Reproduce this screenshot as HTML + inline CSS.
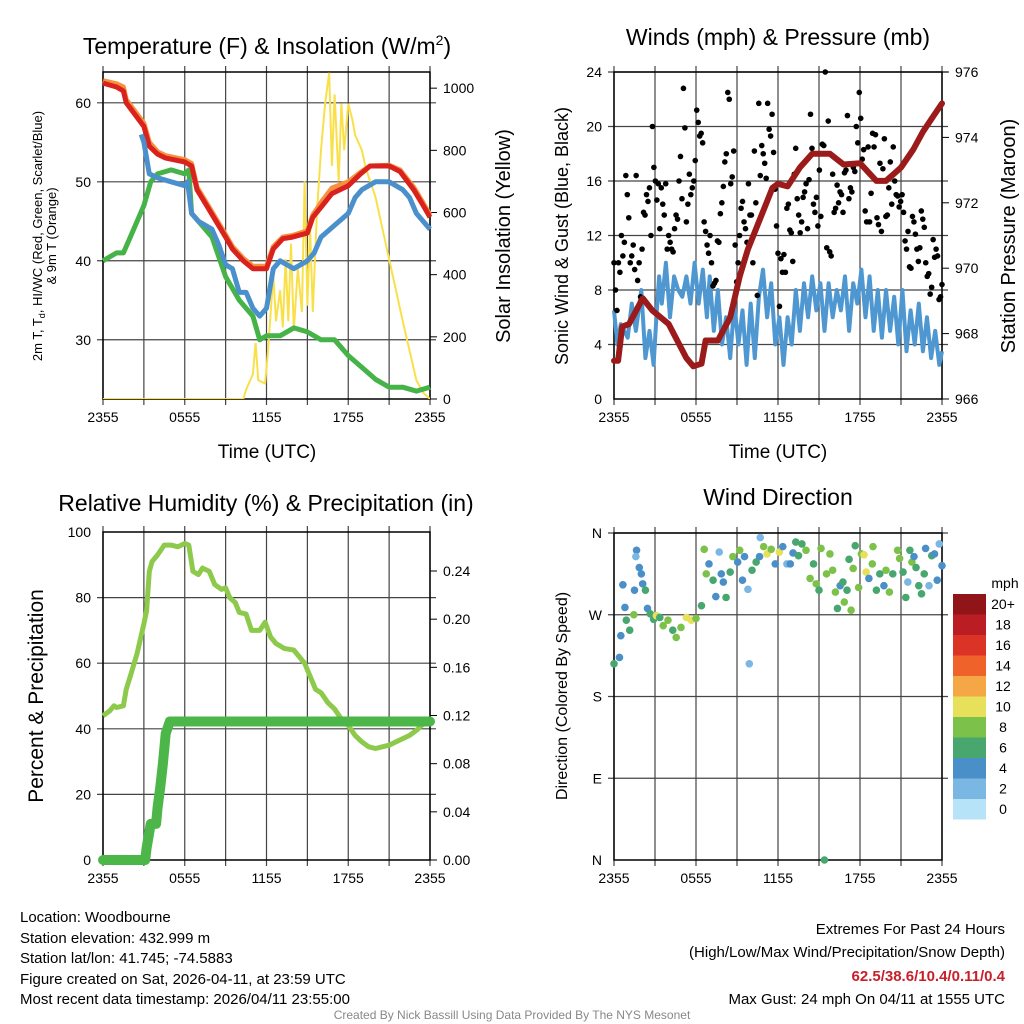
<!DOCTYPE html>
<html><head><meta charset="utf-8"><style>
body{margin:0;background:#fff;width:1024px;height:1024px;overflow:hidden;font-family:"Liberation Sans",sans-serif}
svg{display:block}
</style></head><body>
<svg id="chart" xmlns="http://www.w3.org/2000/svg" width="1024" height="1024" viewBox="0 0 1024 1024" font-family="Liberation Sans, sans-serif">
<rect width="1024" height="1024" fill="#fff"/>
<g id="g"></g>
<text x="267" y="54" font-size="23" text-anchor="middle">Temperature (F) &amp; Insolation (W/m<tspan dy="-9" font-size="14">2</tspan><tspan dy="9">)</tspan></text>
<text x="778" y="45" font-size="23" text-anchor="middle">Winds (mph) &amp; Pressure (mb)</text>
<text x="266" y="511" font-size="23" text-anchor="middle">Relative Humidity (%) &amp; Precipitation (in)</text>
<text x="778" y="505" font-size="23" text-anchor="middle">Wind Direction</text>
<text x="267" y="458" font-size="19" text-anchor="middle">Time (UTC)</text>
<text x="778" y="458" font-size="19" text-anchor="middle">Time (UTC)</text>
<g font-size="13" text-anchor="middle">
<text transform="translate(42,236) rotate(-90)">2m T, T<tspan dy="3" font-size="9">d</tspan><tspan dy="-3">, HI/WC (Red, Green, Scarlet/Blue)</tspan></text>
<text transform="translate(56,236) rotate(-90)">&amp; 9m T (Orange)</text>
</g>
<text font-size="20" text-anchor="middle" transform="translate(510,236) rotate(-90)">Solar Insolation (Yellow)</text>
<text font-size="18" text-anchor="middle" transform="translate(568,236) rotate(-90)">Sonic Wind &amp; Gust (Blue, Black)</text>
<text font-size="20" text-anchor="middle" transform="translate(1015,236) rotate(-90)">Station Pressure (Maroon)</text>
<text font-size="21" text-anchor="middle" transform="translate(43,696) rotate(-90)">Percent &amp; Precipitation</text>
<text font-size="16" text-anchor="middle" transform="translate(567,696) rotate(-90)">Direction (Colored By Speed)</text>
<g font-size="15">
<text x="20" y="922">Location: Woodbourne</text>
<text x="20" y="943">Station elevation: 432.999 m</text>
<text x="20" y="963">Station lat/lon: 41.745; -74.5883</text>
<text x="20" y="984">Figure created on Sat, 2026-04-11, at 23:59 UTC</text>
<text x="20" y="1004">Most recent data timestamp: 2026/04/11 23:55:00</text>
</g>
<g font-size="15" text-anchor="end">
<text x="1005" y="934">Extremes For Past 24 Hours</text>
<text x="1005" y="957">(High/Low/Max Wind/Precipitation/Snow Depth)</text>
<text x="1005" y="981" fill="#c8202a" font-weight="bold">62.5/38.6/10.4/0.11/0.4</text>
<text x="1005" y="1004">Max Gust: 24 mph On 04/11 at 1555 UTC</text>
</g>
<text x="512" y="1019" font-size="12" fill="#888" text-anchor="middle">Created By Nick Bassill Using Data Provided By The NYS Mesonet</text>
</svg>
<script>
// ---------- data ----------
const tempT=[0,1,1.5,1.7,3,3.4,4,4.6,6,6.5,6.9,7.6,8.3,9,9.5,10.3,11,12,12.5,13.2,13.9,15,15.4,16.1,16.8,18,18.9,19.6,21,21.8,22.8,23.5,24];
const tempRed=[62.5,62,61.5,60,57,54.5,53.5,53,52.5,52,49,47,45,43,41.5,40,39,39,41.5,42.8,43,43.5,45.5,47,48.5,49.5,51,52,52,51.3,49,47,45.5];
const tempOrange=[62.8,62.4,62,60.4,57.4,55,53.8,53.3,52.8,52.3,49.3,47.3,45.3,43.3,41.8,40.3,39.3,39.3,41.8,43,43.2,43.8,45.8,47.6,49.2,50,51.2,52,52.1,51.5,49.3,47.3,45.8];
const chillT=[2.8,3,3.4,4,5,6,6.2,6.5,7,8,8.5,9,9.5,10,10.5,11,11.5,12,12.3,12.5,13,14,15,15.5,16,17,18,18.5,19,20,21,22,22.5,23,24];
const chillV=[56,55,51,50.5,50,49.5,50,46,45,44,42,39.5,39,36,36,34,33,34,37,39,40,39,40,41,43,44.5,46,48,49,50,50,49,48,46,44];
const dewT=[0,1,1.5,2,3,3.5,4,5,6,6.3,6.5,7,8,9,10,11,11.5,12,13,14,15,16,17,18,19,20,21,22,23,24];
const dewV=[40,41,41,43,47,50,51,51.5,51,51.5,46,45,43,38,35,33,30,30.5,30.5,31.5,31,30,30,28,26.5,25,24,24,23.5,24];
const solT=[0,10.3,10.5,11,11.2,11.4,11.9,12.1,12.5,12.7,13,13.2,13.4,13.6,13.8,14,14.3,14.6,14.8,15,15.2,15.4,15.7,16,16.3,16.6,16.8,17,17.3,17.5,17.7,18,18.3,18.5,19,19.3,20,21,22,23,23.5,24];
const solV=[0,0,30,80,180,60,50,150,400,250,350,230,450,250,500,220,420,280,700,300,550,280,600,800,950,1050,750,980,700,950,800,950,900,850,800,740,650,450,250,60,20,0];
const presT=[0,0.3,0.6,1.1,2.1,2.8,4,5.3,5.8,6.4,6.7,7.6,8.5,9.2,9.8,10.6,11.6,12,12.7,13.6,14.5,15.8,16.8,18,19.2,19.9,21,21.9,22.6,23.4,24];
const presMb=[967.17,967.17,968.21,968.29,969.08,968.71,968.29,967.25,967.0,967.08,967.79,967.79,968.5,969.75,970.58,971.42,972.46,972.58,972.5,973.08,973.5,973.5,973.17,973.21,972.67,972.67,973.08,973.63,974.17,974.67,975.04];
const windT=[0,0.25,0.5,1,1.3,1.6,2,2.3,2.6,2.9,3.1,3.3,3.5,3.8,4.1,4.4,4.7,5,5.3,5.6,5.9,6.2,6.5,6.8,7,7.3,7.6,7.9,8.2,8.5,8.8,9.1,9.4,9.7,10,10.3,10.6,10.9,11.2,11.5,11.8,12.1,12.4,12.7,13,13.3,13.6,13.9,14.2,14.5,14.8,15.1,15.4,15.7,16,16.3,16.6,16.9,17.2,17.5,17.8,18.1,18.4,18.7,19,19.3,19.6,19.9,20.2,20.5,20.8,21.1,21.4,21.7,22,22.3,22.6,22.9,23.2,23.5,23.8,24];
const windV=[6.5,4,5.5,4.5,7,5,8,3,5,2.5,6,9,7,10,6,9,8,7.5,9,7,10,7,9.5,6,9,5,8,4,6,3,7,4,6.5,2.5,7,3,7.5,9.5,6,8.5,4,6,2.5,6,4,8,5,8.5,6,9,6.5,8.5,5,8.5,6,8,6.5,9,5,8.5,7,9.5,6,9,5,8,4.5,8,5,7.5,4,8,3.5,6.5,4,7,3.5,6,3,5,2.5,3.5];
const gustV=[10,8,6.5,10,9.3,12,10.5,11.5,16.4,15,13.3,10,10.5,11.3,9.5,16.4,8.7,10,7.5,11,13.7,13.5,15,14.5,15.5,12,20,17,16,14.6,15.8,12.5,15.5,14.3,13.5,15.8,11,12,11.5,11,10.8,12.5,13.5,13.2,16,17.8,14.7,22.8,19.9,13,14.3,16.5,15,15.5,16,17.5,21.2,20.3,19.3,19.5,18.8,13,12.3,11.3,10.7,12,10,8.3,8.5,8.7,11.6,11.5,13.6,14.4,15.6,17.4,18,22.5,22,15.8,16.3,18.2,11.3,8.6,10,12,14,14.5,13,12.5,11.5,15.8,13.5,13.5,10,18.2,14.4,7.6,21.7,16.4,18.6,18,17.3,16.2,21.7,19.8,19.3,20.9,18.1,15.4,12.7,10.7,6.8,10.3,9.3,10.6,9.3,14,14.3,12.4,12.2,10.1,16.5,18.4,14.7,13.5,12.2,13,14.8,15.2,15.8,12.5,16.1,20.9,18.4,14.3,13.7,14.8,12.7,16.8,13.4,18.7,18.6,24,11.1,20.4,10.8,10.5,16.5,13.7,14,15.7,14.4,15.2,15,13.7,16.6,16.8,20.8,14.7,15.5,15.2,17,16.7,20,18.8,22.5,20.6,17.6,18.3,13.8,13,18.5,13,15.1,19.5,18.5,19.4,13.3,12.8,17.3,12.3,16.9,19.1,13.4,13.5,15.5,17.4,14.3,18.5,16,15,14.9,14.1,14.5,15,13.7,11.6,11,12.3,9.7,9.6,13.4,13,12.1,11,10.1,11.1,13.8,13.2,12.6,10,9,9.2,7.7,8.2,11.7,10.4,11,10.5,7.3,7.5,8.4];
const rhT=[0,0.5,0.8,1,1.5,1.7,2,2.5,3,3.2,3.4,3.6,4,4.5,5,5.5,6,6.3,6.6,7,7.3,7.8,8.2,8.7,9,9.3,9.7,10,10.5,10.9,11.5,11.9,12.3,12.7,13.3,14,14.4,14.8,15.3,15.6,16,16.5,17,17.5,18,18.5,19,19.5,20,20.5,21,21.5,22,22.5,23,23.5,24];
const rhV=[44,45.5,47,46.5,47,52,56,63,72,76,88,91,93,96,96,95.5,96.5,96,88,87,89,88,84,82.5,83,80,78.5,75.5,75,70,70,72.5,68,66,64.5,64,62,60,55,52,51,48,46,43,41,38,36,34.5,34,34.5,35,36,37,38,39.5,41.5,43];
const precT=[0,3.1,3.2,3.5,3.9,4.0,4.2,4.4,4.6,4.9,24];
const precV=[0,0,0.01,0.03,0.03,0.043,0.06,0.08,0.105,0.115,0.115];
const dirT=[0,0.4,0.5,0.65,0.8,0.9,1.15,1.45,1.5,1.65,1.6,1.85,2.0,2.1,2.3,2.45,2.65,2.9,3.1,3.35,3.6,3.95,4.3,4.55,4.9,5.3,5.65,6.0,6.4,6.6,6.75,6.95,7.25,7.45,7.7,7.85,8.0,8.2,8.5,8.7,9.05,9.2,9.4,9.55,9.8,9.9,10.1,10.4,10.65,10.7,10.95,11.2,11.5,11.8,12.1,12.35,12.65,12.9,13.1,13.3,13.5,13.75,14.05,14.35,14.6,14.8,15.0,15.15,15.4,15.55,15.8,16.0,16.2,16.35,16.55,16.75,16.85,17.05,17.2,17.35,17.5,17.65,17.9,18.1,18.3,18.45,18.65,18.9,18.95,19.2,19.45,19.75,19.9,20.15,20.4,20.75,20.9,21.15,21.35,21.5,21.65,21.8,21.95,22.1,22.3,22.5,22.7,22.8,23.05,23.25,23.45,23.65,23.8,24];
const dirDeg=[216,223,247,303,278,264,253,270,297,341,334,322,315,304,297,277,271,265,269,267,258,264,253,245,256,267,264,266,280,342,315,326,308,290,339,315,306,289,317,334,328,341,308,334,298,216,319,328,334,355,345,337,342,326,339,345,326,326,338,350,335,348,341,310,326,304,297,343,0,315,337,319,295,277,302,306,284,297,331,275,321,346,300,337,336,317,310,326,345,297,315,302,319,295,315,341,332,317,289,306,341,328,334,322,302,293,315,343,302,335,337,308,348,324];
const dirSpd=[6,4,4,4,4,6,6,8,4,4,2,4,4,4,6,4,6,6,10,6,8,8,6,8,8,10,10,8,6,8,8,4,6,4,2,4,4,6,6,8,4,8,4,4,2,2,6,6,4,2,8,10,8,4,10,4,2,4,4,6,6,6,8,8,6,8,6,8,6,8,8,8,8,6,4,6,8,6,6,8,8,6,8,8,10,10,4,8,8,6,6,4,8,8,6,8,8,6,6,2,6,8,4,6,6,6,6,4,2,6,4,4,2,4];
const cbarLabels=["20+","18","16","14","12","10","8","6","4","2","0"];
const cbarColors=["#911518","#bb1d24","#dc3327","#ef622a","#f6a745","#e6e05b","#7cc14a","#48a66f","#4a8fc8","#7bb7e3","#b7e3f8"];
const timeLabels=["2355","0555","1155","1755","2355"];

// ---------- helpers ----------
const NS="http://www.w3.org/2000/svg";
const G=document.getElementById('g');
function mk(tag,attrs,parent){const e=document.createElementNS(NS,tag);for(const k in attrs)e.setAttribute(k,attrs[k]);(parent||G).appendChild(e);return e;}
function scale(d0,d1,r0,r1){return v=>r0+(v-d0)/(d1-d0)*(r1-r0);}
function poly(ts,vs,X,Y){return ts.map((t,i)=>X(t).toFixed(1)+','+Y(vs[i]).toFixed(1)).join(' ');}

function frame(p,x0,x1,y0,y1,X,leftTicks,Yl,leftFmt,rightTicks,Yr,rightFmt,hGrid,name){
  const grp=mk('g',{});
  
  
  for(let h=0;h<=24;h+=3){
    const l=mk('line',{x1:X(h),x2:X(h),y1:y0-6,y2:y1+6,stroke:'#444','stroke-width':1.2},grp);
    
    
  }
  timeLabels.forEach((s,i)=>{
    const t=mk('text',{x:X(i*6),y:y1+23,'font-size':14,'text-anchor':'middle'},grp);t.textContent=s;
    
    
  });
  hGrid.forEach(v=>{
    const l=mk('line',{x1:x0-6,x2:x1+6,y1:Yl(v),y2:Yl(v),stroke:'#444','stroke-width':1.2},grp);
    
    
  });
  leftTicks.forEach((v,i)=>{
    const t=mk('text',{x:x0-12,y:Yl(v)+5,'font-size':14,'text-anchor':'end'},grp);t.textContent=leftFmt(v,i);
    
    
  });
  if(rightTicks){rightTicks.forEach(v=>{
    mk('line',{x1:x1,x2:x1+7,y1:Yr(v),y2:Yr(v),stroke:'#000','stroke-width':1},grp);
    const t=mk('text',{x:x1+13,y:Yr(v)+5,'font-size':14},grp);t.textContent=rightFmt(v);
    
    
  });}
  const r=mk('rect',{x:x0,y:y0,width:x1-x0,height:y1-y0,fill:'none',stroke:'#000','stroke-width':1.5});
  
  
}

// ---------- panel 1 ----------
{const x0=103,x1=430,y0=72,y1=399;
 const X=scale(0,24,x0,x1),Y=scale(22.5,63.9,y1,y0),Ys=scale(0,1052,y1,y0);
 frame(1,x0,x1,y0,y1,X,[30,40,50,60],Y,v=>v,[0,200,400,600,800,1000],Ys,v=>v,[30,40,50,60],'temperature-panel');
 const clip=mk('clipPath',{id:'c1'});mk('rect',{x:x0,y:y0,width:x1-x0,height:y1-y0},clip);
 const s=mk('polyline',{points:poly(solT,solV,X,Ys),fill:'none',stroke:'#f9e04b','stroke-width':2,'clip-path':'url(#c1)'});
 
 
 const d=mk('polyline',{points:poly(dewT,dewV,X,Y),fill:'none',stroke:'#46b348','stroke-width':5,'stroke-linejoin':'round'});
 
 
 const o=mk('polyline',{points:poly(tempT,tempOrange,X,Y),fill:'none',stroke:'#f7913d','stroke-width':5,'stroke-linejoin':'round'});
 
 
 const r=mk('polyline',{points:poly(tempT,tempRed,X,Y),fill:'none',stroke:'#d9221d','stroke-width':5,'stroke-linejoin':'round'});
 
 
 const b=mk('polyline',{points:poly(chillT,chillV,X,Y),fill:'none',stroke:'#4a90cc','stroke-width':5,'stroke-linejoin':'round'});
 
 
}
// ---------- panel 2 ----------
{const x0=614,x1=942,y0=72,y1=399;
 const X=scale(0,24,x0,x1),Y=scale(0,24,y1,y0),Yp=scale(966,976,y1,y0);
 frame(2,x0,x1,y0,y1,X,[0,4,8,12,16,20,24],Y,v=>v,[966,968,970,972,974,976],Yp,v=>v,[4,8,12,16,20,24],'wind-panel');
 const b=mk('polyline',{points:poly(windT,windV,X,Y),fill:'none',stroke:'#4f97d1','stroke-width':4,'stroke-linejoin':'round'});
 
 
 gustV.forEach((v,i)=>{
   const c=mk('circle',{cx:X(i*24/(gustV.length-1)),cy:Y(v),r:2.8,fill:'#000'});
   
   
 });
 const p=mk('polyline',{points:poly(presT,presMb,X,Yp),fill:'none',stroke:'#9b1b1b','stroke-width':6,'stroke-linejoin':'round','stroke-linecap':'round'});
 
 
}
// ---------- panel 3 ----------
{const x0=103,x1=430,y0=532,y1=860;
 const X=scale(0,24,x0,x1),Y=scale(0,100,y1,y0),Yp=scale(0,0.2724,y1,y0);
 frame(3,x0,x1,y0,y1,X,[0,20,40,60,80,100],Y,v=>v,[0,0.04,0.08,0.12,0.16,0.2,0.24],Yp,v=>v.toFixed(2),[20,40,60,80],'humidity-panel');
 const r=mk('polyline',{points:poly(rhT,rhV,X,Y),fill:'none',stroke:'#8dc94a','stroke-width':5,'stroke-linejoin':'round'});
 
 
 const p=mk('polyline',{points:poly(precT,precV,X,Yp),fill:'none',stroke:'#4cb748','stroke-width':10,'stroke-linejoin':'round','stroke-linecap':'round'});
 
 
}
// ---------- panel 4 ----------
{const x0=614,x1=942,y0=533,y1=860;
 const X=scale(0,24,x0,x1),Y=scale(0,360,y1,y0);
 frame(4,x0,x1,y0,y1,X,[0,90,180,270,360],Y,(v,i)=>["N","E","S","W","N"][i],null,null,null,[90,180,270,360],'direction-panel');
 dirT.forEach((t,i)=>{
   const ci=10-Math.min(10,Math.floor(dirSpd[i]/2));
   const c=mk('circle',{cx:X(t),cy:Y(dirDeg[i]),r:3.8,fill:cbarColors[ci]});
   
   
 });
 const cb=mk('g',{});
 
 
 const t0=mk('text',{x:1005,y:588,'font-size':14,'text-anchor':'middle'},cb);t0.textContent='mph';
 cbarColors.forEach((c,i)=>{
   mk('rect',{x:953,y:594+i*20.5,width:33,height:20.5,fill:c},cb);
   const t=mk('text',{x:1003,y:609+i*20.5,'font-size':14,'text-anchor':'middle'},cb);t.textContent=cbarLabels[i];
   
   
 });
}
</script>
</body></html>
